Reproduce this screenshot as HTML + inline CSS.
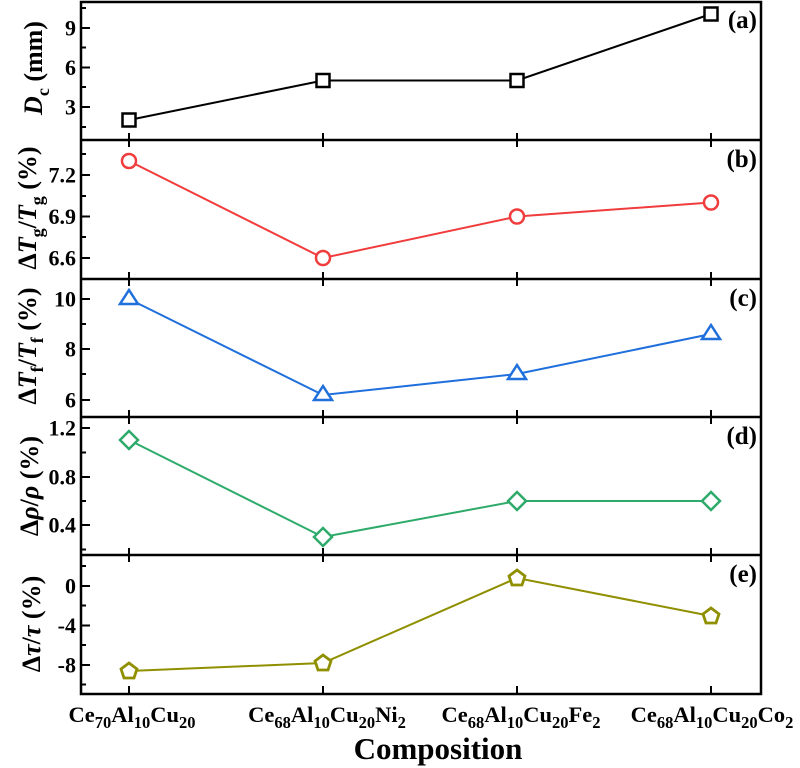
<!DOCTYPE html>
<html><head><meta charset="utf-8"><style>
html,body{margin:0;padding:0;background:#fff;}
svg{display:block;font-family:"Liberation Serif",serif;font-weight:bold;}
</style></head><body>
<svg width="800" height="768" viewBox="0 0 800 768" xmlns="http://www.w3.org/2000/svg">
<g stroke="#000" stroke-width="2.5" fill="none">
<rect x="81" y="2" width="680" height="692"/>
<line x1="81" y1="140" x2="761" y2="140"/>
<line x1="81" y1="279" x2="761" y2="279"/>
<line x1="81" y1="417" x2="761" y2="417"/>
<line x1="81" y1="555" x2="761" y2="555"/>
</g>
<g stroke="#000" stroke-width="2">
<path d="M129 133V147M323 133V147M517 133V147M711 133V147"/>
<path d="M129 272V286M323 272V286M517 272V286M711 272V286"/>
<path d="M129 410V424M323 410V424M517 410V424M711 410V424"/>
<path d="M129 548V562M323 548V562M517 548V562M711 548V562"/>
<path d="M129 686V694M323 686V694M517 686V694M711 686V694"/>
<path d="M81 28H90M81 67.5H90M81 107H90"/>
<path d="M81 175H90M81 216.5H90M81 258H90"/>
<path d="M81 299H90M81 349H90M81 400H90"/>
<path d="M81 428H90M81 477H90M81 525H90"/>
<path d="M81 586H90M81 625.5H90M81 665H90"/>
<path d="M81 8H86M81 47.5H86M81 87H86M81 127H86"/>
<path d="M81 154H86M81 196H86M81 237H86"/>
<path d="M81 324H86M81 374H86"/>
<path d="M81 452.5H86M81 501H86M81 549.5H86"/>
<path d="M81 566H86M81 605.5H86M81 645H86M81 684.5H86"/>
</g>
<g font-size="22" text-anchor="end" fill="#000">
<text x="76" y="35.5">9</text><text x="76" y="75">6</text><text x="76" y="114.5">3</text>
<text x="76" y="182.5">7.2</text><text x="76" y="224">6.9</text><text x="76" y="265.5">6.6</text>
<text x="76" y="306.5">10</text><text x="76" y="356.5">8</text><text x="76" y="407.5">6</text>
<text x="76" y="435.5">1.2</text><text x="76" y="484.5">0.8</text><text x="76" y="532.5">0.4</text>
<text x="76" y="593.5">0</text><text x="76" y="633">-4</text><text x="76" y="672.5">-8</text>
</g>
<g font-size="26" text-anchor="middle" fill="#000">
<text transform="translate(42,68) rotate(-90)"><tspan font-style="italic">D</tspan><tspan font-size="18" dy="7">c</tspan><tspan dy="-7"> (mm)</tspan></text>
<text transform="translate(36,208) rotate(-90)">Δ<tspan font-style="italic">T</tspan><tspan font-size="18" dy="7">g</tspan><tspan dy="-7">/</tspan><tspan font-style="italic">T</tspan><tspan font-size="18" dy="7">g</tspan><tspan dy="-7"> (%)</tspan></text>
<text transform="translate(36,346) rotate(-90)">Δ<tspan font-style="italic">T</tspan><tspan font-size="18" dy="7">f</tspan><tspan dy="-7">/</tspan><tspan font-style="italic">T</tspan><tspan font-size="18" dy="7">f</tspan><tspan dy="-7"> (%)</tspan></text>
<text transform="translate(38,486) rotate(-90)">Δ<tspan font-style="italic">ρ</tspan>/<tspan font-style="italic">ρ</tspan> (%)</text>
<text transform="translate(40,624) rotate(-90)">Δ<tspan font-style="italic">τ</tspan>/<tspan font-style="italic">τ</tspan> (%)</text>
</g>
<g font-size="25" text-anchor="end" fill="#000">
<text x="757" y="28">(a)</text><text x="757" y="167">(b)</text><text x="757" y="306">(c)</text><text x="757" y="444">(d)</text><text x="757" y="582">(e)</text>
</g>
<g fill="none" stroke-width="2">
<polyline stroke="#000" points="129,120 323,80.5 517,80.5 711,14"/>
<g stroke="#000" stroke-width="2.5" fill="#fff">
<rect x="122.5" y="113.5" width="13" height="13"/><rect x="316.5" y="74" width="13" height="13"/><rect x="510.5" y="74" width="13" height="13"/><rect x="704.5" y="7.5" width="13" height="13"/>
</g>
<polyline stroke="#f03c3c" points="129,161 323,258 517,216.5 711,202.5"/>
<g stroke="#f03c3c" stroke-width="2.5" fill="#fff">
<circle cx="129" cy="161" r="7"/><circle cx="323" cy="258" r="7"/><circle cx="517" cy="216.5" r="7"/><circle cx="711" cy="202.5" r="7"/>
</g>
<polyline stroke="#1f6fdc" points="129,299 323,395 517,374 711,334"/>
<g stroke="#1f6fdc" stroke-width="2.5" fill="#fff">
<path d="M129 290L138 304H120Z"/><path d="M323 386L332 400H314Z"/><path d="M517 365L526 379H508Z"/><path d="M711 325L720 339H702Z"/>
</g>
<polyline stroke="#2eaa6a" points="129,440 323,537 517,501 711,501"/>
<g stroke="#2eaa6a" stroke-width="2.5" fill="#fff">
<path d="M129 431L138 440L129 449L120 440Z"/><path d="M323 528L332 537L323 546L314 537Z"/><path d="M517 492L526 501L517 510L508 501Z"/><path d="M711 492L720 501L711 510L702 501Z"/>
</g>
<polyline stroke="#8f8f00" points="129,671 323,663 517,578 711,616"/>
<g stroke="#8f8f00" stroke-width="2.8" fill="#fff">
<path d="M129 663L137 669L134 678H124L121 669Z"/><path d="M323 655L331 661L328 670H318L315 661Z"/><path d="M517 570L525 576L522 585H512L509 576Z"/><path d="M711 608L719 614L716 623H706L703 614Z"/>
</g>
</g>
<g font-size="22.5" text-anchor="middle" fill="#000">
<text x="132" y="722">Ce<tspan font-size="16.5" dy="6">70</tspan><tspan dy="-6">Al</tspan><tspan font-size="16.5" dy="6">10</tspan><tspan dy="-6">Cu</tspan><tspan font-size="16.5" dy="6">20</tspan></text>
<text x="327" y="722">Ce<tspan font-size="16.5" dy="6">68</tspan><tspan dy="-6">Al</tspan><tspan font-size="16.5" dy="6">10</tspan><tspan dy="-6">Cu</tspan><tspan font-size="16.5" dy="6">20</tspan><tspan dy="-6">Ni</tspan><tspan font-size="16.5" dy="6">2</tspan></text>
<text x="521" y="722">Ce<tspan font-size="16.5" dy="6">68</tspan><tspan dy="-6">Al</tspan><tspan font-size="16.5" dy="6">10</tspan><tspan dy="-6">Cu</tspan><tspan font-size="16.5" dy="6">20</tspan><tspan dy="-6">Fe</tspan><tspan font-size="16.5" dy="6">2</tspan></text>
<text x="712" y="722">Ce<tspan font-size="16.5" dy="6">68</tspan><tspan dy="-6">Al</tspan><tspan font-size="16.5" dy="6">10</tspan><tspan dy="-6">Cu</tspan><tspan font-size="16.5" dy="6">20</tspan><tspan dy="-6">Co</tspan><tspan font-size="16.5" dy="6">2</tspan></text>
</g>
<text x="438" y="759" font-size="31" text-anchor="middle" fill="#000">Composition</text>
</svg>
</body></html>
